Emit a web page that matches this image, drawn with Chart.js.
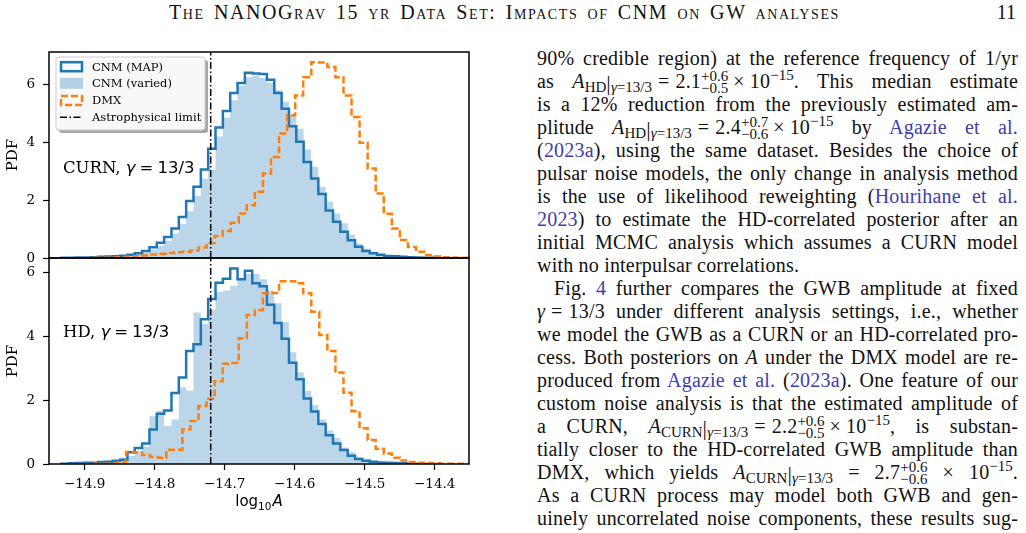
<!DOCTYPE html>
<html><head><meta charset="utf-8">
<script src="https://cdn.jsdelivr.net/npm/chart.js@4.4.1/dist/chart.umd.min.js"></script>
<style>
html,body{margin:0;padding:0;background:#fff;}
body{width:1026px;height:533px;position:relative;overflow:hidden;font-family:"Liberation Serif",serif;color:#111;}
canvas{position:absolute;left:0;}
#hdr{position:absolute;left:169px;top:1px;width:671px;font-size:20px;line-height:23px;letter-spacing:1.6px;font-variant:small-caps;text-align:justify;text-align-last:justify;white-space:nowrap;}
#pg{position:absolute;left:990px;top:1px;width:26px;font-size:20px;line-height:23px;text-align:right;}
.ln{position:absolute;left:537px;width:481px;font-size:20px;line-height:23px;letter-spacing:0.2px;text-align:justify;text-align-last:justify;white-space:nowrap;}
.ln.last{text-align-last:left;}
.ln.ind{left:554px;width:464px;}
a{color:#4040b0;text-decoration:none;}
.sb{font-size:15px;vertical-align:-4px;line-height:0;letter-spacing:0;}
.sp{font-size:15px;vertical-align:8px;line-height:0;letter-spacing:0;}
.ss{display:inline-block;vertical-align:-5px;font-size:15px;line-height:12px;text-align:left;letter-spacing:0;}
.ss span{display:block;}
.rel{margin:0 6px;}
.bin{margin:0 5px;}
.bar{font-size:22px;vertical-align:-2px;line-height:0;}
</style>
</head><body>
<div id="hdr">The NANOGrav 15 yr Data Set: Impacts of CNM on GW analyses</div>
<div id="pg">11</div>

<canvas id="cTop" width="480" height="235" style="top:40px;width:480px;height:235px"></canvas>
<canvas id="cBot" width="480" height="277" style="top:256px;width:480px;height:277px"></canvas>

<div class="ln" style="top:47px">90% credible region) at the reference frequency of 1/yr</div>
<div class="ln" style="top:70px">as <i>A</i><span class="sb">HD</span><span class="bar">|</span><span class="sb"><i>γ</i>=13/3</span><span class="rel">=</span>2.1<span class="ss"><span>+0.6</span><span>−0.5</span></span><span class="bin">×</span>10<span class="sp">−15</span>. This median estimate</div>
<div class="ln" style="top:93px">is a 12% reduction from the previously estimated am-</div>
<div class="ln" style="top:116px">plitude <i>A</i><span class="sb">HD</span><span class="bar">|</span><span class="sb"><i>γ</i>=13/3</span><span class="rel">=</span>2.4<span class="ss"><span>+0.7</span><span>−0.6</span></span><span class="bin">×</span>10<span class="sp">−15</span> by <a>Agazie et al.</a></div>
<div class="ln" style="top:139px">(<a>2023a</a>), using the same dataset. Besides the choice of</div>
<div class="ln" style="top:162px">pulsar noise models, the only change in analysis method</div>
<div class="ln" style="top:185px">is the use of likelihood reweighting (<a>Hourihane et al.</a></div>
<div class="ln" style="top:208px"><a>2023</a>) to estimate the HD-correlated posterior after an</div>
<div class="ln" style="top:231px">initial MCMC analysis which assumes a CURN model</div>
<div class="ln last" style="top:254px">with no interpulsar correlations.</div>
<div class="ln ind" style="top:277px">Fig. <a>4</a> further compares the GWB amplitude at fixed</div>
<div class="ln" style="top:300px"><i>γ</i><span class="rel">=</span>13/3 under different analysis settings, i.e., whether</div>
<div class="ln" style="top:323px">we model the GWB as a CURN or an HD-correlated pro-</div>
<div class="ln" style="top:346px">cess. Both posteriors on <i>A</i> under the DMX model are re-</div>
<div class="ln" style="top:369px">produced from <a>Agazie et al.</a> (<a>2023a</a>). One feature of our</div>
<div class="ln" style="top:392px">custom noise analysis is that the estimated amplitude of</div>
<div class="ln" style="top:415px">a CURN, <i>A</i><span class="sb">CURN</span><span class="bar">|</span><span class="sb"><i>γ</i>=13/3</span><span class="rel">=</span>2.2<span class="ss"><span>+0.6</span><span>−0.5</span></span><span class="bin">×</span>10<span class="sp">−15</span>, is substan-</div>
<div class="ln" style="top:438px">tially closer to the HD-correlated GWB amplitude than</div>
<div class="ln" style="top:461px">DMX, which yields <i>A</i><span class="sb">CURN</span><span class="bar">|</span><span class="sb"><i>γ</i>=13/3</span> = 2.7<span class="ss"><span>+0.6</span><span>−0.6</span></span> × 10<span class="sp">−15</span>.</div>
<div class="ln" style="top:484px">As a CURN process may model both GWB and gen-</div>
<div class="ln" style="top:507px">uinely uncorrelated noise components, these results sug-</div>

<script>
// ---- axes ----
const xMin = -14.951, xMax = -14.351;
const xTicks = [-14.9, -14.8, -14.7, -14.6, -14.5, -14.4];
const yTicks = [0, 2, 4, 6];
const topYMax = 7.12, botYMax = 6.47;
const astroLimit = -14.72;

// ---- histogram binning ----
const cnmBinStart = -14.9334, cnmBinWidth = 0.01049;
const dmxBinStart = -14.8870, dmxBinWidth = 0.011505;

// ---- series (PDF per bin) ----
const curnMap = [0.01,0.01,0.02,0.02,0.03,0.04,0.05,0.06,0.08,0.11,0.16,0.24,0.37,0.53,0.73,1.02,1.42,1.97,2.46,3.06,3.78,4.51,5.08,5.70,6.05,6.40,6.38,6.36,6.16,5.70,5.16,4.55,4.02,3.32,2.75,2.21,1.64,1.25,0.91,0.61,0.39,0.24,0.16,0.11,0.07,0.06,0.04,0.03,0.02,0.01,0.01];
const curnVaried = [0.01,0.01,0.01,0.02,0.02,0.03,0.04,0.05,0.07,0.10,0.13,0.19,0.29,0.42,0.60,0.85,1.18,1.62,2.15,2.75,3.05,4.20,4.85,5.45,5.95,6.25,6.30,6.22,6.05,5.80,5.40,4.93,4.47,3.75,3.15,2.46,1.94,1.54,1.20,0.80,0.50,0.33,0.22,0.14,0.09,0.06,0.04,0.02,0.01,0.01,0.00];
const curnDmx = [0.01,0.01,0.02,0.03,0.04,0.06,0.09,0.12,0.15,0.17,0.20,0.22,0.26,0.36,0.52,0.76,0.93,1.22,1.54,1.82,2.29,2.92,3.49,4.30,4.93,5.62,6.25,6.77,6.76,6.60,6.25,5.62,4.87,3.98,3.09,2.23,1.53,1.02,0.62,0.38,0.22,0.10,0.05,0.03,0.02,0.01,0.01];
const hdMap = [0.01,0.02,0.03,0.04,0.04,0.06,0.07,0.10,0.13,0.37,0.50,0.64,1.08,1.58,1.68,2.23,2.72,3.55,3.76,4.55,5.18,5.69,5.82,6.14,5.80,6.07,5.68,5.58,5.00,4.43,3.93,3.18,2.66,2.06,1.65,1.26,0.90,0.64,0.44,0.26,0.16,0.10,0.07,0.05,0.04,0.03,0.02,0.01,0.01,0.00,0.00];
const hdVaried = [0.02,0.03,0.04,0.05,0.04,0.06,0.08,0.12,0.20,0.25,0.40,0.55,1.50,1.67,1.19,1.40,2.41,2.30,4.76,4.40,4.85,5.40,5.45,5.60,5.79,5.97,5.97,5.80,5.45,5.05,4.45,3.51,2.88,2.30,1.85,1.40,1.05,0.82,0.52,0.37,0.21,0.14,0.09,0.06,0.04,0.02,0.01,0.01,0.00,0.00,0.00];
const hdDmx = [0.01,0.01,0.02,0.05,0.38,0.36,0.28,0.22,0.20,0.45,0.45,1.08,1.35,1.82,2.05,2.60,3.15,3.17,3.95,4.68,4.84,5.36,5.37,5.74,5.74,5.68,5.36,4.78,4.05,3.55,2.87,2.24,1.66,1.12,0.75,0.48,0.33,0.20,0.11,0.06,0.04,0.03,0.02,0.01,0.01,0.01,0.01];

const legendLabels = ['CNM (MAP)', 'CNM (varied)', 'DMX', 'Astrophysical limit'];

// ---- styles ----
const C_BLUE = '#1f77b4', C_FILL = 'rgba(31,119,180,0.3)', C_ORANGE = '#ff7f0e';
const DASH_ORANGE = [7, 3], DASH_DOT = [7, 2.5, 1.5, 2.5];
const SERIF = '"DejaVu Serif", serif', SANS = '"DejaVu Sans", sans-serif';

Chart.defaults.color = '#000';
Chart.defaults.font.family = SERIF;

function stepData(start, width, heights) {
  const pts = [{x: start, y: 0}];
  for (let i = 0; i < heights.length; i++) pts.push({x: start + i * width, y: heights[i]});
  pts.push({x: start + heights.length * width, y: 0});
  return pts;
}

function datasets(mapH, variedH, dmxH, yMax) {
  return [
    {data: [{x: astroLimit, y: 0}, {x: astroLimit, y: yMax}], borderColor: '#000', borderWidth: 1.5, borderDash: DASH_DOT, pointRadius: 0, fill: false, clip: 0},
    {data: stepData(dmxBinStart, dmxBinWidth, dmxH), stepped: true, borderColor: C_ORANGE, borderWidth: 2.5, borderDash: DASH_ORANGE, pointRadius: 0, fill: false, clip: 0, borderJoinStyle: 'miter'},
    {data: stepData(cnmBinStart, cnmBinWidth, mapH), stepped: true, borderColor: C_BLUE, borderWidth: 2.5, pointRadius: 0, fill: false, clip: 0, borderJoinStyle: 'miter'},
    {data: stepData(cnmBinStart, cnmBinWidth, variedH), stepped: true, borderWidth: 0, borderColor: 'rgba(0,0,0,0)', backgroundColor: C_FILL, pointRadius: 0, fill: 'origin', clip: 0}
  ];
}

const framePlugin = {
  id: 'frame',
  afterDatasetsDraw(chart) {
    const a = chart.chartArea, ctx = chart.ctx;
    ctx.save();
    ctx.strokeStyle = '#000'; ctx.lineWidth = 1.5;
    ctx.strokeRect(a.left, a.top, a.right - a.left, a.bottom - a.top);
    ctx.restore();
  }
};

function drawPanelLabel(ctx, x, y, name) {
  ctx.save();
  ctx.fillStyle = '#000';
  ctx.textBaseline = 'alphabetic'; ctx.textAlign = 'left';
  ctx.font = '16.5px ' + SERIF;
  ctx.fillText(name + ', ', x, y);
  x += ctx.measureText(name + ', ').width;
  ctx.font = 'italic 16.5px ' + SANS;
  ctx.fillText('γ', x, y);
  x += ctx.measureText('γ').width + 4;
  ctx.font = '16.5px ' + SANS;
  ctx.fillText('=', x, y);
  x += ctx.measureText('=').width + 4;
  ctx.fillText('13/3', x, y);
  ctx.restore();
}

function roundRect(ctx, x, y, w, h, r) {
  ctx.beginPath();
  ctx.moveTo(x + r, y); ctx.lineTo(x + w - r, y); ctx.quadraticCurveTo(x + w, y, x + w, y + r);
  ctx.lineTo(x + w, y + h - r); ctx.quadraticCurveTo(x + w, y + h, x + w - r, y + h);
  ctx.lineTo(x + r, y + h); ctx.quadraticCurveTo(x, y + h, x, y + h - r);
  ctx.lineTo(x, y + r); ctx.quadraticCurveTo(x, y, x + r, y);
  ctx.closePath();
}

const topDecor = {
  id: 'topDecor',
  afterDraw(chart) {
    const ctx = chart.ctx;
    const bx = 56, by = 17, bw = 149, bh = 73;
    ctx.save();
    roundRect(ctx, bx + 3, by + 3, bw, bh, 3);
    ctx.fillStyle = 'rgba(0,0,0,0.35)'; ctx.fill();
    roundRect(ctx, bx, by, bw, bh, 3);
    ctx.fillStyle = 'rgba(255,255,255,0.92)'; ctx.fill();
    ctx.strokeStyle = '#cccccc'; ctx.lineWidth = 1; ctx.stroke();
    const rows = [26.7, 43.3, 60.5, 77.3];
    const hx = 61, hw = 21, hh = 9;
    ctx.lineJoin = 'miter';
    ctx.strokeStyle = C_BLUE; ctx.lineWidth = 2.5;
    ctx.strokeRect(hx, rows[0] - hh / 2, hw, hh);
    ctx.fillStyle = C_FILL;
    ctx.fillRect(hx - 1, rows[1] - hh / 2 - 1, hw + 2, hh + 2);
    ctx.strokeStyle = C_ORANGE; ctx.setLineDash(DASH_ORANGE);
    ctx.strokeRect(hx, rows[2] - hh / 2, hw, hh);
    ctx.strokeStyle = '#000'; ctx.lineWidth = 1.5; ctx.setLineDash(DASH_DOT);
    ctx.beginPath(); ctx.moveTo(hx - 1, rows[3]); ctx.lineTo(hx + hw + 1, rows[3]); ctx.stroke();
    ctx.setLineDash([]);
    ctx.fillStyle = '#000'; ctx.font = '11.5px ' + SERIF; ctx.textBaseline = 'middle'; ctx.textAlign = 'left';
    legendLabels.forEach((t, i) => ctx.fillText(t, 92, rows[i] + 1));
    ctx.restore();
    drawPanelLabel(ctx, 63, 132.5, 'CURN');
  }
};

const botDecor = {
  id: 'botDecor',
  afterDraw(chart) {
    const ctx = chart.ctx;
    drawPanelLabel(ctx, 63, 81, 'HD');
    ctx.save();
    ctx.fillStyle = '#000'; ctx.textBaseline = 'alphabetic'; ctx.textAlign = 'left';
    const f1 = '15px ' + SANS, f2 = '10.5px ' + SANS, f3 = 'italic 15px ' + SANS;
    ctx.font = f1; const w1 = ctx.measureText('log').width;
    ctx.font = f2; const w2 = ctx.measureText('10').width;
    ctx.font = f3; const w3 = ctx.measureText('A').width;
    const a = chart.chartArea;
    let x = (a.left + a.right) / 2 - (w1 + w2 + w3 + 1) / 2, y = 250;
    ctx.font = f1; ctx.fillText('log', x, y); x += w1;
    ctx.font = f2; ctx.fillText('10', x, y + 3.5); x += w2 + 1;
    ctx.font = f3; ctx.fillText('A', x, y);
    ctx.restore();
  }
};

function fmtTick(v) { return (v < 0 ? '\u2212' : '') + Math.abs(v).toFixed(1); }

function makeOptions(yMax, isBottom, padTop, xHeight) {
  return {
    responsive: false, animation: false, events: [],
    layout: {padding: {left: 0, right: 11, top: padTop, bottom: 0}},
    plugins: {legend: {display: false}, tooltip: {enabled: false}},
    scales: {
      x: {
        type: 'linear', min: xMin, max: xMax,
        afterBuildTicks(s) { s.ticks = xTicks.map(v => ({value: v})); },
        afterFit(s) { s.height = xHeight; s.paddingLeft = 0; s.paddingRight = 0; },
        border: {display: false},
        grid: {display: isBottom, drawOnChartArea: false, drawTicks: true, tickLength: 6, tickColor: '#000', tickWidth: 1.2},
        ticks: {display: isBottom, padding: 6, font: {size: 13.5, family: SERIF}, color: '#000', callback: v => fmtTick(v), maxRotation: 0, autoSkip: false}
      },
      y: {
        min: 0, max: yMax,
        afterBuildTicks(s) { s.ticks = yTicks.map(v => ({value: v})); },
        afterFit(s) { s.width = 49; s.paddingTop = 0; s.paddingBottom = 0; },
        border: {display: false},
        grid: {display: true, drawOnChartArea: false, drawTicks: true, tickLength: 6, tickColor: '#000', tickWidth: 1.2},
        ticks: {padding: 8, font: {size: 13.5, family: SERIF}, color: '#000', callback: v => String(v)},
        title: {display: true, text: 'PDF', font: {size: 15, family: SERIF}, color: '#000', padding: {top: 4, bottom: 0}}
      }
    }
  };
}

new Chart(document.getElementById('cTop'), {
  type: 'line',
  data: {datasets: datasets(curnMap, curnVaried, curnDmx, topYMax)},
  options: makeOptions(topYMax, false, 12, 17),
  plugins: [framePlugin, topDecor]
});

new Chart(document.getElementById('cBot'), {
  type: 'line',
  data: {datasets: datasets(hdMap, hdVaried, hdDmx, botYMax)},
  options: makeOptions(botYMax, true, 2, 69),
  plugins: [framePlugin, botDecor]
});
</script>
</body></html>
